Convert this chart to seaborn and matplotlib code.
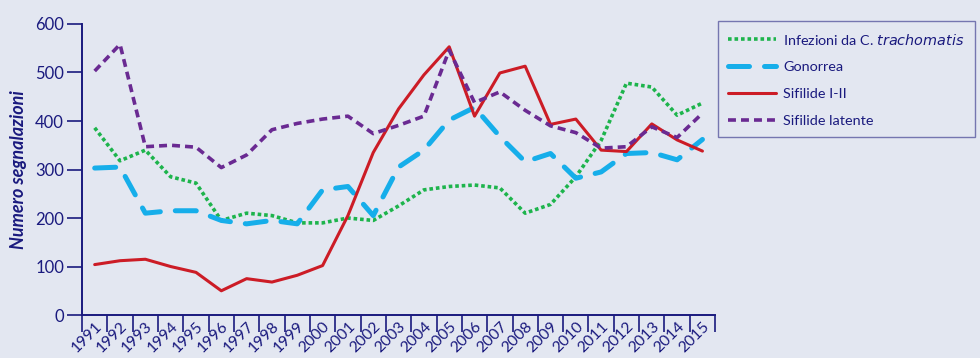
import matplotlib
matplotlib.use("Agg")
import matplotlib.pyplot as plt
import numpy as np
import pandas as pd
import seaborn as sns

# ── data ──────────────────────────────────────────────────────────────────────
years = list(range(1991, 2016))

chlamydia = [386, 318, 340, 285, 272, 195, 210, 205, 190, 190, 200, 195, 225,
             258, 265, 268, 262, 210, 228, 285, 360, 478, 470, 412, 437]
gonorrea = [303, 305, 210, 215, 215, 195, 188, 195, 188, 258, 265, 205, 305,
            340, 402, 428, 368, 316, 333, 282, 295, 333, 335, 320, 362]
sifilide_1_2 = [104, 112, 115, 100, 88, 50, 75, 68, 82, 102, 205, 335, 425,
                495, 553, 410, 499, 513, 393, 404, 340, 337, 394, 361, 338]
sifilide_latente = [503, 558, 347, 350, 346, 304, 330, 382, 395, 404, 410, 374,
                    391, 410, 546, 438, 460, 422, 390, 376, 344, 347, 388, 366, 416]

labels = ["Infezioni da C. $\\it{trachomatis}$", "Gonorrea",
          "Sifilide I-II", "Sifilide latente"]
series = [chlamydia, gonorrea, sifilide_1_2, sifilide_latente]

BG = "#e3e7f1"
NAVY = "#1a1a7e"
styles = [
    dict(color="#1db44c", lw=2.6, ls=(0, (1.0, 0.8)), cap="butt"),
    dict(color="#16aeea", lw=3.6, ls=(0, (4.2, 3.0)), cap="round"),
    dict(color="#cc1c26", lw=2.2, ls="-", cap="butt"),
    dict(color="#6a2a92", lw=2.6, ls=(0, (2.2, 1.4)), cap="butt"),
]

sns.set_theme(style="white")
plt.rcParams["font.family"] = ["Lato", "DejaVu Sans"]

fig = plt.figure(figsize=(9.8, 3.58), dpi=100, facecolor=BG)
ax = fig.add_axes([0.0837, 0.12, 0.646, 0.813])
ax.set_facecolor(BG)

x = np.arange(len(years))
for lab, vals, st in zip(labels, series, styles):
    df = pd.DataFrame({"x": x, "y": vals})
    sns.lineplot(data=df, x="x", y="y", ax=ax, color=st["color"],
                 linewidth=st["lw"], linestyle=st["ls"], label=lab,
                 dash_capstyle=st["cap"])

ax.set_xlim(-0.5, len(years) - 0.5)
ax.set_ylim(0, 600)
ax.set_yticks(range(0, 601, 100))
# tick marks sit between the years, labels sit under each year
ax.set_xticks(np.arange(-0.5, len(years), 1.0))
ax.set_xticklabels([])
ax.set_xticks(x, minor=True)
ax.set_xticklabels([str(y) for y in years], minor=True, rotation=45,
                   ha="right", va="top", rotation_mode="anchor")
ax.tick_params(axis="x", which="minor", length=0, pad=3, labelsize=11.3,
               labelcolor=NAVY)
ax.tick_params(axis="x", which="major", length=12, width=1.2, color=NAVY,
               direction="out", bottom=True)
ax.tick_params(axis="y", length=11, width=1.2, color=NAVY, labelsize=12,
               labelcolor=NAVY, pad=2, left=True)

for side in ["top", "right"]:
    ax.spines[side].set_visible(False)
for side in ["left", "bottom"]:
    ax.spines[side].set_color(NAVY)
    ax.spines[side].set_linewidth(1.4)

ax.set_xlabel("")
ax.set_ylabel("Numero segnalazioni", fontsize=13, style="italic",
              fontweight="bold", color=NAVY, labelpad=6)

leg = ax.legend(loc="upper left", bbox_to_anchor=(0.7327, 0.941),
                bbox_transform=fig.transFigure, frameon=True, fancybox=False,
                fontsize=10.4, handlelength=3.3, handletextpad=0.5,
                borderpad=0.72, labelspacing=1.02, labelcolor=NAVY,
                borderaxespad=0)
leg.get_frame().set_edgecolor("#5a5aa0")
leg.get_frame().set_facecolor(BG)
leg.get_frame().set_linewidth(1.0)

fig.savefig("out.png", dpi=100, facecolor=BG)
